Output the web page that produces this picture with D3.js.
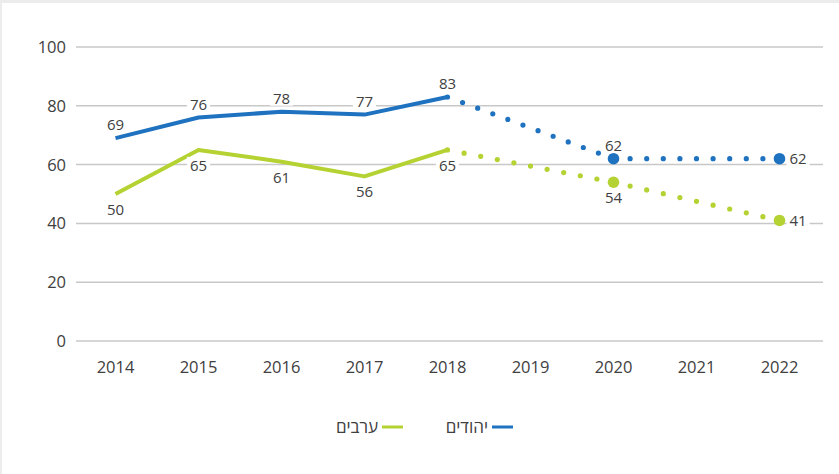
<!DOCTYPE html>
<html>
<head>
<meta charset="utf-8">
<script src="https://cdn.jsdelivr.net/npm/d3@7"></script>
<style>
  html, body { margin: 0; padding: 0; background: #ececec; }
  #chart { position: absolute; left: 2px; top: 3px; width: 837px; height: 471px; background: #fff; }
  svg { display: block; font-family: "Open Sans", "Liberation Sans", sans-serif; }
  .grid line { stroke: #c8c8c8; stroke-width: 1.5; }
  .tick-label { fill: #404040; font-size: 16.5px; }
  .value-label { fill: #404040; font-size: 15px; }
  .legend text { fill: #404040; font-size: 17px; }
</style>
</head>
<body>
<div id="chart"></div>
<script>
// data
var years = ['2014', '2015', '2016', '2017', '2018', '2019', '2020', '2021', '2022'];
var actualYears = ['2014', '2015', '2016', '2017', '2018'];
var jewsActual = [69, 76, 78, 77, 83];
var arabsActual = [50, 65, 61, 56, 65];
var projYears = ['2018', '2020', '2022'];
var jewsProj = [83, 62, 62];
var arabsProj = [65, 54, 41];
var yTicks = [0, 20, 40, 60, 80, 100];

var blue = '#1e72bf';
var green = '#b4d232';

var w = 837, h = 471;
var svg = d3.select('#chart').append('svg')
  .attr('width', w)
  .attr('height', h);

// scales (svg is offset by 2,3 inside the page)
var x = d3.scalePoint().domain(years).range([72, 819]).padding(0.5);
var y = d3.scaleLinear().domain([0, 100]).range([338, 44]);

// gridlines
var grid = svg.append('g').attr('class', 'grid');
grid.selectAll('line').data(yTicks).enter().append('line')
  .attr('x1', 74).attr('x2', 821)
  .attr('y1', function(d) { return y(d); })
  .attr('y2', function(d) { return y(d); });

// y axis labels
svg.append('g').selectAll('text').data(yTicks).enter().append('text')
  .attr('class', 'tick-label')
  .attr('x', 64)
  .attr('y', function(d) { return y(d); })
  .attr('dy', '0.36em')
  .attr('text-anchor', 'end')
  .text(function(d) { return d; });

// x axis labels
svg.append('g').selectAll('text').data(years).enter().append('text')
  .attr('class', 'tick-label')
  .attr('x', function(d) { return x(d); })
  .attr('y', 370)
  .attr('text-anchor', 'middle')
  .text(function(d) { return d; });

function zip(keys, vals) {
  return keys.map(function(k, i) { return { year: k, value: vals[i] }; });
}

var line = d3.line()
  .x(function(d) { return x(d.year); })
  .y(function(d) { return y(d.value); });

function drawSeries(color, actual, proj) {
  var g = svg.append('g');
  g.append('path')
    .datum(actual)
    .attr('d', line)
    .attr('fill', 'none')
    .attr('stroke', color)
    .attr('stroke-width', 4)
    .attr('stroke-linejoin', 'round');

  // dotted projection, one segment at a time so dots land on both ends
  for (var i = 0; i < proj.length - 1; i++) {
    var a = proj[i], b = proj[i + 1];
    var dx = x(b.year) - x(a.year), dy = y(b.value) - y(a.value);
    var len = Math.sqrt(dx * dx + dy * dy);
    var gap = len / Math.round(len / 16.3);
    g.append('path')
      .datum([a, b])
      .attr('d', line)
      .attr('fill', 'none')
      .attr('stroke', color)
      .attr('stroke-width', 5.2)
      .attr('stroke-linecap', 'round')
      .attr('stroke-dasharray', '0 ' + gap)
      .attr('stroke-dashoffset', i == 0 ? -gap : 0);
  }

  g.selectAll('circle').data(proj.slice(1)).enter().append('circle')
    .attr('cx', function(d) { return x(d.year); })
    .attr('cy', function(d) { return y(d.value); })
    .attr('r', 5.8)
    .attr('fill', color);
}

var jewsA = zip(actualYears, jewsActual), jewsP = zip(projYears, jewsProj);
var arabsA = zip(actualYears, arabsActual), arabsP = zip(projYears, arabsProj);

drawSeries(blue, jewsA, jewsP);
drawSeries(green, arabsA, arabsP);

// value labels
var labels = [];
jewsA.forEach(function(d) { labels.push({ d: d, pos: 'above' }); });
arabsA.forEach(function(d) { labels.push({ d: d, pos: 'below' }); });
labels.push({ d: jewsP[1], pos: 'above' });
labels.push({ d: jewsP[2], pos: 'right' });
labels.push({ d: arabsP[1], pos: 'below' });
labels.push({ d: arabsP[2], pos: 'right' });

var lg = svg.append('g');
labels.forEach(function(l) {
  var px = x(l.d.year), py = y(l.d.value);
  var t = lg.append('text')
    .attr('class', 'value-label')
    .text(l.d.value);
  if (l.pos == 'above') {
    t.attr('x', px).attr('y', py - 8).attr('text-anchor', 'middle');
  } else if (l.pos == 'below') {
    t.attr('x', px).attr('y', py + 21).attr('text-anchor', 'middle');
  } else {
    t.attr('x', px + 10).attr('y', py).attr('dy', '0.36em').attr('text-anchor', 'start');
  }
  var bb = t.node().getBBox();
  lg.insert('rect', function() { return t.node(); })
    .attr('x', bb.x - 3).attr('y', bb.y + 2)
    .attr('width', bb.width + 6).attr('height', bb.height - 4)
    .attr('fill', '#fff');
});

// legend (rtl: line on the right of the text)
var legendItems = [
  { name: 'יהודים', color: blue, lineX: 490 },
  { name: 'ערבים', color: green, lineX: 380 }
];
var leg = svg.append('g').attr('class', 'legend');
legendItems.forEach(function(it) {
  leg.append('line')
    .attr('x1', it.lineX).attr('x2', it.lineX + 21)
    .attr('y1', 424).attr('y2', 424)
    .attr('stroke', it.color).attr('stroke-width', 3);
  leg.append('text')
    .attr('x', it.lineX - 4).attr('y', 424)
    .attr('dy', '0.36em')
    .attr('text-anchor', 'end')
    .text(it.name);
});
</script>
</body>
</html>
